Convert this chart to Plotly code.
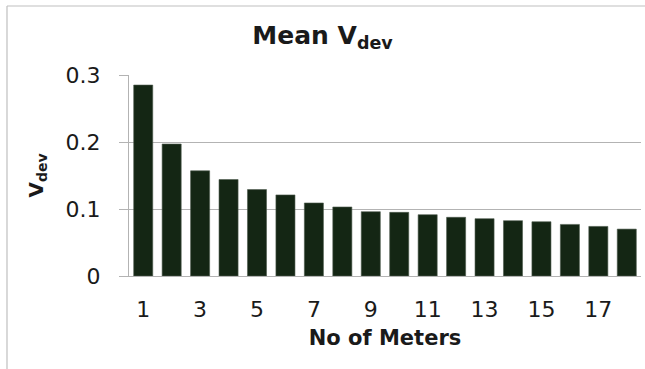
import plotly.graph_objects as go

# Number of meters and the mean voltage deviation for each
meters = [str(i) for i in range(1, 19)]
mean_vdev = [0.285, 0.197, 0.157, 0.144, 0.129, 0.121, 0.109, 0.103, 0.096,
             0.095, 0.0915, 0.0876, 0.0856, 0.0826, 0.081, 0.077, 0.074, 0.070]

y_ticks = [0, 0.1, 0.2, 0.3]
y_tick_text = ["0", "0.1", "0.2", "0.3"]
x_tick_labels = [str(i) for i in range(1, 19, 2)]

FONT = "DejaVu Sans"
TEXT = "#1a1a1a"
GRID = "#b3b3b3"

fig = go.Figure(
    go.Bar(
        x=meters,
        y=mean_vdev,
        marker=dict(color="#142614", line=dict(color="#4d5a4d", width=0.6)),
        width=0.67,
    )
)

fig.update_layout(
    width=645,
    height=369,
    margin=dict(l=129, r=4, t=75, b=93),
    paper_bgcolor="white",
    plot_bgcolor="white",
    showlegend=False,
    font=dict(family=FONT, color=TEXT, size=23),
    title=dict(
        text="<b>Mean V<sub>dev</sub></b>",
        x=0.5,
        xref="container",
        xanchor="center",
        y=0.905,
        yanchor="middle",
        font=dict(size=25, family=FONT, color=TEXT),
    ),
    bargap=0.33,
)

fig.update_xaxes(
    type="category",
    tickmode="array",
    tickvals=x_tick_labels,
    ticktext=x_tick_labels,
    showline=True,
    linecolor=GRID,
    linewidth=1,
    ticks="",
    showgrid=False,
    ticklabelstandoff=14,
    tickfont=dict(size=22, family=FONT, color=TEXT),
    title=dict(text="<b>No of Meters</b>", font=dict(size=21, family=FONT, color=TEXT), standoff=8),
)

fig.update_yaxes(
    range=[0, 0.3],
    tickmode="array",
    tickvals=y_ticks,
    ticktext=y_tick_text,
    showline=True,
    linecolor=GRID,
    linewidth=1,
    ticks="outside",
    ticklen=9,
    tickcolor=GRID,
    showgrid=True,
    gridcolor=GRID,
    gridwidth=1,
    zeroline=False,
    ticklabelstandoff=14,
    tickfont=dict(size=22, family=FONT, color=TEXT),
    title=dict(text="<b>V<sub>dev</sub></b>", font=dict(size=20, family=FONT, color=TEXT), standoff=16),
)

# Outer chart frame (left and top edges are in view)
px_w = 645 - 129 - 4
px_h = 369 - 75 - 93
x0 = (7 - 129) / px_w
x1 = (645 + 10 - 129) / px_w
y_top = (369 - 93 - 6) / px_h
y_bot = (-20 - 93) / px_h
fig.add_shape(type="line", xref="paper", yref="paper", x0=x0, x1=x0, y0=y_bot, y1=y_top,
              line=dict(color="#bfbfbf", width=1.2))
fig.add_shape(type="line", xref="paper", yref="paper", x0=x0, x1=x1, y0=y_top, y1=y_top,
              line=dict(color="#bfbfbf", width=1.2))

fig.write_html("out.html")
